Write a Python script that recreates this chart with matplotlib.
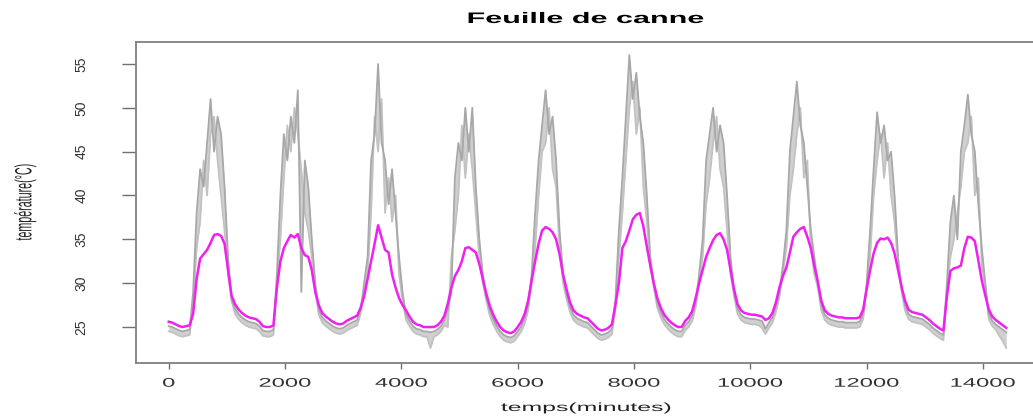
import numpy as np
import matplotlib
matplotlib.use("Agg")
import matplotlib.pyplot as plt
from matplotlib import patheffects
from matplotlib.transforms import Affine2D

plt.rcParams['font.family'] = ['Liberation Sans', 'DejaVu Sans']

# one reading every 60 minutes, 10 days
STEP_MIN = 60

# canne leaf, mean temperature (magenta)
temp_mean = [
    25.6, 25.5, 25.3, 25.1, 25.0, 25.1, 25.2, 26.5, 30.5, 32.8, 33.3, 33.8, 34.6, 35.5, 35.6, 35.4, 34.5, 31.5, 28.6, 27.6, 27.0, 26.6, 26.3, 26.1,
    26.0, 25.9, 25.6, 25.1, 25.0, 25.0, 25.2, 29.5, 32.5, 34.0, 34.8, 35.5, 35.2, 35.6, 34.0, 33.2, 33.0, 31.5, 29.0, 27.5, 26.6, 26.2, 25.9, 25.6,
    25.4, 25.3, 25.4, 25.7, 25.9, 26.1, 26.3, 27.2, 28.5, 30.5, 32.5, 34.5, 36.6, 35.2, 33.8, 33.5, 31.0, 29.5, 28.3, 27.5, 26.9, 26.2, 25.6, 25.3,
    25.2, 25.0, 25.0, 25.0, 25.0, 25.2, 25.6, 26.3, 27.7, 29.5, 30.8, 31.5, 32.5, 34.0, 34.1, 33.8, 33.5, 32.2, 30.5, 28.8, 27.4, 26.4, 25.6, 25.0,
    24.6, 24.4, 24.3, 24.5, 25.0, 25.6, 26.5, 28.0, 30.3, 32.5, 34.5, 36.0, 36.4, 36.2, 35.8, 35.0, 33.3, 31.0, 29.3, 27.8, 26.9, 26.5, 26.3, 26.1,
    26.0, 25.6, 25.2, 24.8, 24.6, 24.7, 24.9, 25.3, 27.5, 30.0, 34.0, 34.8, 36.0, 37.3, 37.8, 38.0, 36.5, 34.2, 32.0, 30.0, 28.3, 27.2, 26.4, 25.9,
    25.5, 25.2, 25.0, 25.0, 25.7, 26.1, 26.8, 28.3, 30.0, 31.5, 33.0, 34.0, 34.9, 35.5, 35.7, 35.0, 33.8, 31.5, 29.3, 27.6, 26.9, 26.6, 26.5, 26.4,
    26.4, 26.3, 26.2, 25.8, 26.0, 26.6, 27.8, 29.5, 30.8, 31.8, 33.5, 35.3, 35.8, 36.2, 36.4, 35.3, 34.0, 32.0, 30.2, 28.0, 26.9, 26.5, 26.3, 26.2,
    26.1, 26.1, 26.0, 26.0, 26.0, 26.0, 26.1, 27.0, 29.3, 31.5, 33.4, 34.6, 35.1, 35.0, 35.2, 34.6, 33.4, 31.5, 29.6, 28.0, 27.0, 26.7, 26.6, 26.5,
    26.4, 26.1, 25.8, 25.4, 25.1, 24.8, 24.6, 28.5, 31.4, 31.7, 31.8, 32.0, 34.0, 35.3, 35.2, 34.8, 32.6, 30.3, 28.6, 27.0, 26.2, 25.8, 25.5, 25.2,
    24.9,
]

# individual sensors (gray)
temp_sensor_a = [
    25.1, 25.0, 24.8, 24.6, 24.5, 24.6, 24.7, 29.0, 38.0, 43.0, 41.0, 46.0, 51.0, 45.0, 49.0, 47.0, 41.0, 33.0, 28.2, 27.1, 26.5, 26.1, 25.8, 25.6,
    25.5, 25.4, 25.1, 24.6, 24.5, 24.5, 24.7, 31.0, 40.0, 47.0, 44.0, 49.0, 46.0, 52.0, 29.0, 44.0, 41.0, 35.0, 30.0, 27.0, 26.1, 25.7, 25.4, 25.1,
    24.9, 24.8, 24.9, 25.2, 25.4, 25.6, 25.8, 27.0, 30.0, 33.0, 44.0, 47.0, 55.0, 46.0, 44.0, 39.0, 43.0, 38.0, 33.0, 29.0, 26.4, 25.7, 25.1, 24.8,
    24.7, 24.5, 24.5, 24.4, 24.5, 24.7, 25.1, 25.8, 27.0, 29.0, 42.0, 46.0, 44.0, 50.0, 45.0, 50.0, 41.0, 35.0, 31.0, 28.5, 26.9, 25.9, 25.1, 24.5,
    24.1, 23.9, 23.8, 24.0, 24.5, 25.1, 26.0, 27.5, 31.0, 38.0, 44.0, 48.0, 52.0, 47.0, 49.0, 44.0, 36.0, 31.0, 28.8, 27.3, 26.4, 26.0, 25.8, 25.6,
    25.5, 25.1, 24.7, 24.3, 24.1, 24.2, 24.4, 24.8, 28.0, 36.0, 42.0, 49.0, 56.0, 51.0, 54.0, 49.0, 46.0, 40.0, 33.0, 30.0, 27.8, 26.7, 25.9, 25.4,
    25.0, 24.7, 24.5, 24.5, 25.2, 25.6, 26.3, 27.8, 31.0, 35.0, 44.0, 47.0, 50.0, 45.0, 48.0, 46.0, 40.0, 33.0, 29.0, 27.1, 26.4, 26.1, 26.0, 25.9,
    25.9, 25.8, 25.7, 24.8, 25.5, 26.1, 27.3, 29.0, 32.0, 36.0, 45.0, 49.0, 53.0, 48.0, 46.0, 41.0, 36.0, 33.0, 30.0, 27.5, 26.4, 26.0, 25.8, 25.7,
    25.6, 25.6, 25.5, 25.5, 25.5, 25.5, 25.6, 26.5, 30.0, 36.0, 43.0, 49.5, 46.0, 48.0, 44.0, 45.0, 40.0, 33.0, 29.5, 27.5, 26.5, 26.2, 26.1, 26.0,
    25.9, 25.6, 25.3, 24.9, 24.6, 24.3, 24.1, 30.0, 37.0, 40.0, 35.0, 45.0, 48.0, 51.5, 47.0, 45.0, 39.0, 34.0, 30.0, 26.5, 25.7, 25.3, 25.0, 24.7,
    24.4,
]

temp_sensor_b = [
    24.5, 24.4, 24.2, 24.0, 23.9, 24.0, 24.1, 27.5, 34.0, 37.0, 44.0, 40.0, 47.0, 49.0, 44.0, 40.0, 36.0, 31.0, 28.0, 26.5, 25.9, 25.5, 25.2, 25.0,
    24.9, 24.8, 24.5, 24.0, 23.9, 23.9, 24.1, 30.0, 35.0, 42.0, 48.0, 45.0, 50.0, 47.0, 43.0, 38.0, 36.0, 33.0, 29.0, 26.4, 25.5, 25.1, 24.8, 24.5,
    24.3, 24.2, 24.3, 24.6, 24.8, 25.0, 25.2, 26.5, 29.0, 31.0, 38.0, 49.0, 45.0, 51.0, 38.0, 42.0, 37.0, 40.0, 31.0, 28.0, 25.8, 25.1, 24.5, 24.2,
    24.1, 23.9, 23.9, 22.6, 23.9, 24.1, 24.5, 25.2, 25.0, 33.0, 36.0, 40.0, 48.0, 42.0, 47.0, 43.0, 38.0, 33.0, 30.0, 28.0, 26.3, 25.3, 24.5, 23.9,
    23.5, 23.3, 23.2, 23.4, 23.9, 24.5, 25.4, 26.9, 30.0, 34.0, 40.0, 45.0, 46.0, 50.0, 43.0, 41.0, 34.0, 30.0, 28.2, 26.7, 25.8, 25.4, 25.2, 25.0,
    24.9, 24.5, 24.1, 23.7, 23.5, 23.6, 23.8, 24.2, 27.0, 33.0, 38.0, 44.0, 50.0, 53.0, 47.0, 50.0, 41.0, 37.0, 32.0, 29.5, 27.2, 26.1, 25.3, 24.8,
    24.4, 24.1, 23.9, 23.9, 24.6, 25.0, 25.7, 27.2, 30.0, 33.0, 39.0, 42.0, 46.0, 49.0, 43.0, 41.0, 36.0, 31.0, 28.5, 26.5, 25.8, 25.5, 25.4, 25.3,
    25.3, 25.2, 24.9, 24.2, 24.9, 25.5, 26.7, 28.4, 31.0, 34.0, 40.0, 43.0, 47.0, 50.0, 42.0, 44.0, 34.0, 31.0, 29.5, 26.9, 25.8, 25.4, 25.2, 25.1,
    25.0, 25.0, 24.9, 24.9, 24.9, 24.9, 25.0, 25.9, 29.5, 33.0, 40.0, 44.0, 47.0, 42.0, 46.0, 40.0, 37.0, 32.0, 29.0, 26.9, 25.9, 25.6, 25.5, 25.4,
    25.3, 25.0, 24.7, 24.3, 24.0, 23.7, 23.5, 29.0, 33.0, 35.0, 38.0, 41.0, 45.0, 46.0, 49.0, 40.0, 42.0, 32.0, 29.5, 25.9, 25.1, 24.7, 24.0, 23.4,
    22.6,
]

x_ticks = [0, 2000, 4000, 6000, 8000, 10000, 12000, 14000]
y_ticks = [25, 30, 35, 40, 45, 50, 55]


class HStretch(patheffects.AbstractPathEffect):
    """Widen a text horizontally around its own centre (the source image is stretched)."""

    def __init__(self, sx):
        super().__init__()
        self.sx = sx

    def draw_path(self, renderer, gc, tpath, affine, rgbFace=None):
        ext = tpath.get_extents(affine)
        cx = (ext.x0 + ext.x1) / 2
        aff = affine + Affine2D().translate(-cx, 0).scale(self.sx, 1).translate(cx, 0)
        renderer.draw_path(gc, tpath, aff, rgbFace)


minutes = np.arange(len(temp_mean)) * STEP_MIN

fig = plt.figure(figsize=(10.33, 4.17), dpi=100)
ax = fig.add_axes([0.1314, 0.1302, 0.8754, 0.7679])

# gray band between the two sensors, then the sensor traces, mean on top
ax.fill_between(minutes, temp_sensor_b, temp_sensor_a, color='#d0d0d0', lw=0)
ax.plot(minutes, temp_sensor_b, color='#c2c2c2', lw=1.3)
ax.plot(minutes, temp_sensor_a, color='#a8a8a8', lw=1.3)
ax.plot(minutes, temp_mean, color='#f020f0', lw=1.8)

ax.set_xlim(-567, 14981)
ax.set_ylim(20.93, 57.45)

for side in ['left', 'bottom', 'top']:
    ax.spines[side].set_color('#808080')
    ax.spines[side].set_linewidth(1.3)
ax.spines['right'].set_visible(False)

ax.set_xticks(x_ticks, [str(v) for v in x_ticks], fontsize=9, color='#333333',
              path_effects=[HStretch(1.9)])
ax.set_yticks(y_ticks, [str(v) for v in y_ticks], fontsize=10, color='#333333',
              rotation=90, va='center')
ax.tick_params(axis='x', length=4, width=1, color='#707070', pad=6.8)
ax.tick_params(axis='y', length=10, width=1, color='#707070', pad=24)

fig.text(586 / 1033, 1 - 23 / 417, 'Feuille de canne', ha='center', va='baseline',
         fontsize=11, fontweight='bold', path_effects=[HStretch(2.0)])
fig.text(586 / 1033, 1 - 408 / 417, 'temps(minutes)', ha='center', va='center',
         fontsize=8.5, color='#222222', path_effects=[HStretch(2.1)])
fig.text(25 / 1033, 1 - 202 / 417, 'température(°C)', ha='center', va='center',
         rotation=90, fontsize=7.7, color='#222222', path_effects=[HStretch(2.2)])

fig.savefig('out.png', dpi=100)
